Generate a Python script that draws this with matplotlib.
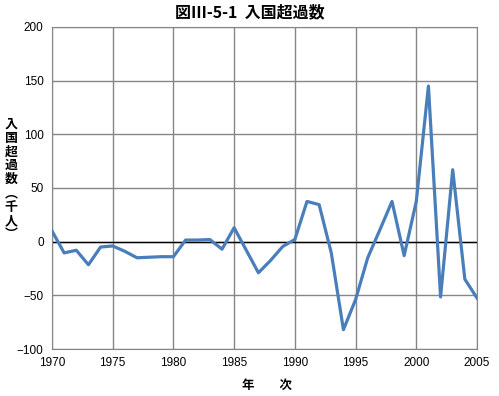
import matplotlib.pyplot as plt
import numpy as np

years = np.arange(1970, 2006)
excess = [10, -10.5, -8, -21.5, -5, -4, -9, -15, -14.5, -14, -14,
          1.5, 1.5, 2, -7, 13, -8, -29, -17.5, -4.5, 2,
          37.5, 34.5, -10.5, -82, -54, -15, 11, 37.5, -13, 37.5,
          145, -51.5, 67, -35, -52.5]

jp = ["Noto Sans CJK JP", "DejaVu Sans"]

fig = plt.figure(figsize=(4.99, 3.96), dpi=100)
ax = fig.add_axes([52 / 499, 1 - 349 / 396, 425 / 499, 322 / 396])

ax.plot(years, excess, color="#4a7ebb", linewidth=2.3, zorder=3)
ax.axhline(0, color="black", linewidth=1.0, zorder=2)

ax.set_xlim(1970, 2005)
ax.set_ylim(-100, 200)
ax.set_xticks(np.arange(1970, 2006, 5))
ax.set_yticks(np.arange(-100, 201, 50))
ax.grid(True, color="#868686", linewidth=1.0)
ax.set_axisbelow(True)
for s in ax.spines.values():
    s.set_color("#868686")
ax.tick_params(length=0, labelsize=8.5, pad=6, colors="black")
for lab in ax.get_yticklabels() + ax.get_xticklabels():
    lab.set_fontfamily("Liberation Sans")

fig.text(0.5, 1 - 12 / 396, "図Ⅲ-5-1  入国超過数", ha="center", va="center",
         fontsize=11.5, fontweight="bold", family=jp)
fig.text(267 / 499, 1 - 385 / 396, "年　　次", ha="center", va="center",
         fontsize=9, fontweight="bold", family=jp)
fig.text(11 / 499, 1 - 179 / 396, "\n".join("入国超過数︵千人︶"), ha="center", va="center",
         fontsize=9.3, fontweight="bold", family=jp, linespacing=0.98)

fig.savefig("out.png", dpi=100)
